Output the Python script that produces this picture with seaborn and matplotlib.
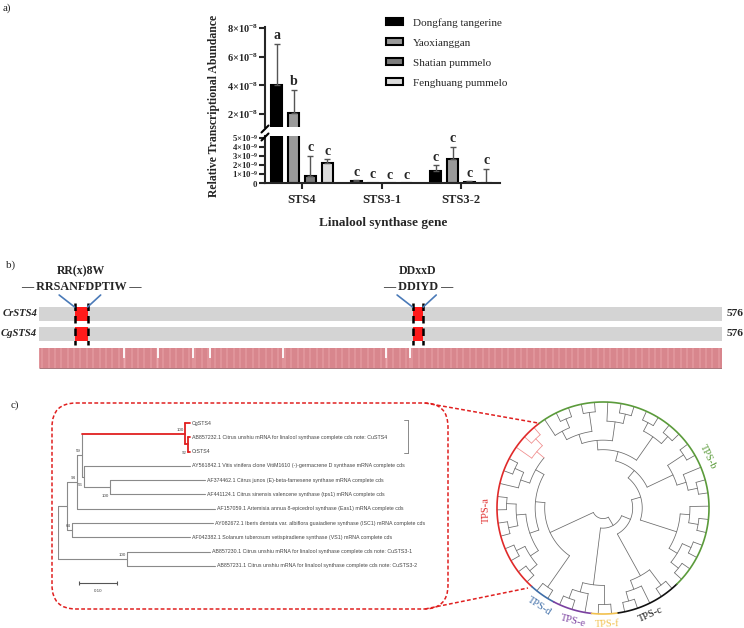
import matplotlib
matplotlib.use("Agg")
import matplotlib.pyplot as plt
from matplotlib.patches import FancyBboxPatch, Rectangle, Patch
import seaborn as sns
import numpy as np
import pandas as pd

# ---------------- a) expression of the linalool synthase genes ----------------
genes = ["STS4", "STS3-1", "STS3-2"]
cultivars = ["Dongfang tangerine", "Yaoxianggan", "Shatian pummelo", "Fenghuang pummelo"]
dongfang = [4.0e-8, 0.20e-9, 1.30e-9]
yaoxianggan = [2.1e-8, 0.05e-9, 2.70e-9]
shatian = [0.8e-9, 0.0, 0.15e-9]
fenghuang = [2.2e-9, 0.0, 0.02e-9]
dongfang_sd = [2.9e-8, 0.08e-9, 0.70e-9]
yaoxianggan_sd = [1.6e-8, 0.0, 1.30e-9]
shatian_sd = [2.2e-9, 0.0, 0.08e-9]
fenghuang_sd = [0.4e-9, 0.0, 1.55e-9]
dongfang_sig = ["a", "c", "c"]
yaoxianggan_sig = ["b", "c", "c"]
shatian_sig = ["c", "c", "c"]
fenghuang_sig = ["c", "c", "c"]
bar_colors = ["#000000", "#9a9a9a", "#7d7d7d", "#dcdcdc"]

upper_ticks = [2e-8, 4e-8, 6e-8, 8e-8]
upper_labels = [r"$\mathbf{2{\times}10^{-8}}$", r"$\mathbf{4{\times}10^{-8}}$",
                r"$\mathbf{6{\times}10^{-8}}$", r"$\mathbf{8{\times}10^{-8}}$"]
lower_ticks = [0, 1e-9, 2e-9, 3e-9, 4e-9, 5e-9]
lower_labels = [r"$\mathbf{0}$", r"$\mathbf{1{\times}10^{-9}}$", r"$\mathbf{2{\times}10^{-9}}$",
                r"$\mathbf{3{\times}10^{-9}}$", r"$\mathbf{4{\times}10^{-9}}$", r"$\mathbf{5{\times}10^{-9}}$"]

# ---------------- b) protein alignment ----------------
protein_len = 576
sequences = ["CrSTS4", "CgSTS4"]
motif_names = ["RR(x)8W", "DDxxD"]
motif_seqs = ["RRSANFDPTIW", "DDIYD"]
motif_start = [30, 315]
motif_end = [41, 324]
variable_sites = [72, 100, 130, 144, 206, 293, 313]

# ---------------- c) phylogeny ----------------
tree_leaves = [
    "CgSTS4",
    "AB857232.1 Citrus unshiu mRNA for linalool synthase complete cds note: CuSTS4",
    "CrSTS4",
    "AY561842.1 Vitis vinifera clone VitiM1610 (-)-germacrene D synthase mRNA complete cds",
    "AF374462.1 Citrus junos (E)-beta-farnesene synthase mRNA complete cds",
    "AF441124.1 Citrus sinensis valencene synthase (tps1) mRNA complete cds",
    "AF157059.1 Artemisia annua 8-epicedrol synthase (Eas1) mRNA complete cds",
    "AY082672.1 Iberis dentata var. albiflora guaiadiene synthase (ISC1) mRNA complete cds",
    "AF042382.1 Solanum tuberosum vetispiradiene synthase (VS1) mRNA complete cds",
    "AB857230.1 Citrus unshiu mRNA for linalool synthase complete cds note: CuSTS3-1",
    "AB857231.1 Citrus unshiu mRNA for linalool synthase complete cds note: CuSTS3-2",
]
tip_depth = [0.347, 0.347, 0.347, 0.347, 0.387, 0.387, 0.413, 0.408, 0.347, 0.400, 0.413]
# (name, depth, child 1, child 2, bootstrap): children are leaf indices or earlier clade names
clades = [
    ("n92", 0.342, 1, 2, "92"),
    ("n100s4", 0.334, 0, "n92", "100"),
    ("n100a", 0.137, 4, 5, "100"),
    ("n56", 0.068, 3, "n100a", "56"),
    ("n59", 0.063, "n100s4", "n56", "59"),
    ("n94", 0.050, "n59", 6, "94"),
    ("n64", 0.037, 7, 8, "64"),
    ("nbase", 0.024, "n94", "n64", ""),
    ("n100b", 0.182, 9, 10, "100"),
    ("root", 0.0, "nbase", "n100b", ""),
]
sts4_clade = {"n92", "n100s4", 0, 1, 2}

tps_a = [[[["a1", "a2"], "a3"], [["a4", "a5"], "a6"]],
         [[["a7", "a8"], ["a9", "a10"]], [["a11", "a12"], ["a13", "a14"]]]]
tps_d = ["d1", "d2"]
tps_e = [["e1", "e2"], "e3"]
tps_f = ["f1", "f2"]
tps_c = [[["c1", "c2"], "c3"], ["c4", "c5"]]
tps_b = [[[["b1", "b2"], ["b3", "b4"]], [["b5", "b6"], "b7"]],
         [[[["b8", "b9"], "b10"], ["b11", "b12"]],
          [[["b13", "b14"], ["b15", "b16"]],
           [[["b17", "b18"], "b19"], [["b20", "b21"], [["b22", "b23"], "b24"]]]]]]
tps_tree = [[tps_a, tps_d], [[tps_e, tps_f], [tps_c, tps_b]]]
tps_groups = ["a", "d", "e", "f", "c", "b"]
tps_colors = {"a": "#e02a2a", "d": "#3f6ea8", "e": "#7a40a0", "f": "#f2c14e", "c": "#111111", "b": "#5b9b3b"}
highlight = {"a1", "a2", "a3"}

W, H = 744, 628
sns.set_style("ticks")
plt.rcParams["font.family"] = ["Liberation Serif", "DejaVu Serif"]
plt.rcParams["mathtext.fontset"] = "custom"
plt.rcParams["mathtext.rm"] = "Liberation Serif"
plt.rcParams["mathtext.bf"] = "Liberation Serif:bold"

fig = plt.figure(figsize=(W / 100, H / 100), dpi=100)


def px_axes(x0, y0, x1, y1):
    return fig.add_axes([x0 / W, 1 - y1 / H, (x1 - x0) / W, (y1 - y0) / H])


# ---------------- panel a ----------------
means = [dongfang, yaoxianggan, shatian, fenghuang]
sds = [dongfang_sd, yaoxianggan_sd, shatian_sd, fenghuang_sd]
sigs = [dongfang_sig, yaoxianggan_sig, shatian_sig, fenghuang_sig]
rows = []
for gi, g in enumerate(genes):
    for ci, c in enumerate(cultivars):
        rows.append(dict(gene=g, cultivar=c, value=means[ci][gi], sd=sds[ci][gi], sig=sigs[ci][gi]))
expr = pd.DataFrame(rows)

ax_top = px_axes(265, 26.6, 500, 127)
ax_bot = px_axes(265, 136, 500, 183)
for ax in (ax_top, ax_bot):
    sns.barplot(data=expr, x="gene", y="value", hue="cultivar", order=genes, hue_order=cultivars,
                palette=bar_colors, width=0.85, gap=0.34, edgecolor="black", linewidth=1.5,
                errorbar=None, legend=False, ax=ax)
    ax.set_xlim(-0.465, 2.49)
    ax.set_xlabel("")
    ax.set_ylabel("")
    bars = sorted(ax.patches, key=lambda p: p.get_x())
    xs = np.array([p.get_x() + p.get_width() / 2 for p in bars])
    has = expr["sd"].values > 0
    ax.errorbar(xs[has], expr["value"].values[has],
                yerr=[np.zeros(has.sum()), expr["sd"].values[has]],
                fmt="none", ecolor="#555555", elinewidth=1, capsize=2.5, capthick=1, zorder=1)
    for s in ("top", "right"):
        ax.spines[s].set_visible(False)
    for s in ("left", "bottom"):
        ax.spines[s].set_linewidth(1.5)
    ax.tick_params(axis="both", direction="out", length=4, width=1.5, pad=1)

ax_top.set_ylim(1.1e-8, 8.1e-8)
ax_top.set_yticks(upper_ticks, upper_labels, fontsize=7.5)
ax_top.set_xticks([])
ax_top.spines["bottom"].set_visible(False)
ax_bot.set_ylim(0, 5.2e-9)
ax_bot.set_yticks(lower_ticks, lower_labels, fontsize=6.3)
ax_bot.set_xticks(range(len(genes)), genes, fontsize=9, fontweight="bold")
ax_bot.tick_params(axis="x", pad=4)

for x, (_, r) in zip(xs, expr.iterrows()):
    top = r["value"] + r["sd"]
    target = ax_top if top > 5.2e-9 else ax_bot
    target.annotate(r["sig"], (x, top), xytext=(0, 1), textcoords="offset points",
                    ha="center", va="bottom", fontsize=10, fontweight="bold", annotation_clip=False)

handles = [Patch(facecolor=c, edgecolor="black", linewidth=1.5) for c in bar_colors]
ax_top.legend(handles, cultivars, loc="upper left", bbox_to_anchor=(386 / W, 1 - 18 / H),
              bbox_transform=fig.transFigure, frameon=False, fontsize=8, handlelength=1.5,
              handleheight=0.6, handletextpad=0.9, labelspacing=0.95, borderpad=0, borderaxespad=0)

fig.text(214 / W, 1 - 106 / H, "Relative Transcriptional Abundance", rotation=90, ha="center",
         va="center", fontsize=8.5, fontweight="bold")
fig.text(383 / W, 1 - 223 / H, "Linalool synthase gene", ha="center", va="center",
         fontsize=9.5, fontweight="bold")

# ---------------- panel b ----------------
ax_b = px_axes(39, 262, 722, 372)
ax_b.set_xlim(0, protein_len)
ax_b.set_ylim(372, 262)
ax_b.axis("off")
row_y = [(307, 321), (327, 341)]
for name, (y0, y1) in zip(sequences, row_y):
    ax_b.add_patch(Rectangle((0, y0), protein_len, y1 - y0, facecolor="#d4d4d4", edgecolor="none"))
    ax_b.text(-1.5, (y0 + y1) / 2, name, ha="right", va="center", fontsize=7.7,
              fontweight="bold", fontstyle="italic", clip_on=False)
    ax_b.text(protein_len + 4, (y0 + y1) / 2, str(protein_len), ha="left", va="center",
              fontsize=8.2, fontweight="bold", clip_on=False)
    for s, e in zip(motif_start, motif_end):
        ax_b.add_patch(Rectangle((s, y0), e - s, y1 - y0, facecolor="#ff1a1a", edgecolor="none"))
residues = np.arange(1, protein_len + 1)
conserved = residues[~np.isin(residues, variable_sites)]
ax_b.add_patch(Rectangle((0, 348), protein_len, 20, facecolor="#eba6ac", edgecolor="none"))
ax_b.vlines(conserved, 348, 368, color="#c05c66", linewidth=0.35)
ax_b.vlines(variable_sites, 348, 358, color="white", linewidth=1.3)
ax_b.hlines(368, 0, protein_len, color="#9a6066", linewidth=0.6)
for name, seq, s, e in zip(motif_names, motif_seqs, motif_start, motif_end):
    c = (s + e) / 2
    ax_b.vlines([s, e], 303, 345, color="black", linewidth=1.8, linestyle=(0, (3, 2)))
    ax_b.plot([s, s - 13], [307, 295], color="#4a7ab8", linewidth=1.2)
    ax_b.plot([e, e + 11], [307, 295], color="#4a7ab8", linewidth=1.2)
    ax_b.text(c, 271, name, ha="center", va="center", fontsize=8.5, fontweight="bold")
    ax_b.text(c, 287, "\u2014 " + seq + " \u2014", ha="center", va="center", fontsize=8.7,
              fontweight="bold")

# ---------------- panel c: rectangular tree ----------------
ax_t = px_axes(58, 413, 458, 600)
ax_t.set_xlim(0, 400 / 380)
ax_t.set_ylim(12.38, -0.7)
ax_t.axis("off")
pos = {i: (d, float(i)) for i, d in enumerate(tip_depth)}
for name, depth, c1, c2, boot in clades:
    y1, y2 = pos[c1][1], pos[c2][1]
    pos[name] = (depth, (y1 + y2) / 2)
    vcol = "#e02020" if name in sts4_clade else "#8a8a8a"
    ax_t.plot([depth, depth], [y1, y2], color=vcol, linewidth=1.3 if name in sts4_clade else 0.8)
    for ch in (c1, c2):
        col = "#e02020" if ch in sts4_clade else "#8a8a8a"
        ax_t.plot([depth, pos[ch][0]], [pos[ch][1]] * 2, color=col,
                  linewidth=1.3 if ch in sts4_clade else 0.8)
    if boot:
        below = name in ("n92", "n56", "n100a")
        ax_t.text(depth - 0.004, pos[name][1] + (0.45 if below else -0.15), boot, ha="right",
                  va="top" if below else "bottom", fontsize=3.2, family="Liberation Sans",
                  color="#444444")
for i, lab in enumerate(tree_leaves):
    ax_t.text(tip_depth[i] + 0.006, i, lab, ha="left", va="center", fontsize=3.8,
              family="Liberation Sans", color="#444444")
ax_t.plot([0.921, 0.921], [-0.2, 2.1], color="#777777", linewidth=0.6)
ax_t.plot([0.911, 0.921], [-0.2, -0.2], color="#777777", linewidth=0.6)
ax_t.plot([0.911, 0.921], [2.1, 2.1], color="#777777", linewidth=0.6)
ax_t.plot([0.055, 0.155], [11.19, 11.19], color="#555555", linewidth=0.8, marker="|",
          markersize=3, markeredgewidth=0.8)
ax_t.text(0.105, 11.6, "0.10", ha="center", va="top", fontsize=3.2, family="Liberation Sans",
          color="#444444")

# ---------------- panel c: circular tree ----------------
ax_c = px_axes(483, 388, 723, 628)
ax_c.set_xlim(-1.132, 1.132)
ax_c.set_ylim(-1.132, 1.132)
ax_c.axis("off")


def leaves_of(node):
    return [node] if isinstance(node, str) else [x for c in node for x in leaves_of(c)]


def height(node):
    return 0 if isinstance(node, str) else 1 + max(height(c) for c in node)


order = leaves_of(tps_tree)
step = 360 / len(order)
start = 127
leaf_angle = {nm: start + (i + 0.5) * step for i, nm in enumerate(order)}


def draw_clade(node):
    if isinstance(node, str):
        return leaf_angle[node], 1.0
    kids = [draw_clade(c) for c in node]
    r = 1 - 0.09 * height(node)
    col = "#f08a8a" if set(leaves_of(node)) <= highlight else "#6a6a6a"
    angs = [k[0] for k in kids]
    th = np.radians(np.linspace(min(angs), max(angs), 40))
    ax_c.plot(r * np.cos(th), r * np.sin(th), color=col, linewidth=0.55)
    for (a, rc), c in zip(kids, node):
        ccol = "#f08a8a" if set(leaves_of(c)) <= highlight else "#6a6a6a"
        t = np.radians(a)
        ax_c.plot([r * np.cos(t), rc * np.cos(t)], [r * np.sin(t), rc * np.sin(t)], color=ccol,
                  linewidth=0.55)
    return (min(angs) + max(angs)) / 2, r


draw_clade(tps_tree)
label_pos = {"a": (181, 1.1, 91), "b": (26, 1.1, -64), "d": (237, 1.1, -33),
             "e": (255, 1.1, -15), "f": (272, 1.1, 2), "c": (294, 1.1, 24)}
for g in tps_groups:
    angs = [leaf_angle[n] for n in order if n[0] == g]
    th = np.radians(np.linspace(min(angs) - step / 2, max(angs) + step / 2, 80))
    ax_c.plot(np.cos(th), np.sin(th), color=tps_colors[g], linewidth=1.2)
    a, r, rot = label_pos[g]
    ax_c.text(r * np.cos(np.radians(a)), r * np.sin(np.radians(a)), "TPS-" + g, rotation=rot,
              ha="center", va="center", fontsize=7.5, color=tps_colors[g])

# ---------------- overlay: panel labels, break marks, zoom box ----------------
ax_o = fig.add_axes([0, 0, 1, 1])
ax_o.set_xlim(0, W)
ax_o.set_ylim(H, 0)
ax_o.axis("off")
ax_o.patch.set_alpha(0)
ax_o.text(3, 8, "a)", fontsize=8, va="center")
ax_o.text(6, 265, "b)", fontsize=8, va="center")
ax_o.text(11, 405, "c)", fontsize=8, va="center")
for yb in (129, 137):
    ax_o.plot([261.5, 268.5], [yb + 3.5, yb - 3.5], color="black", linewidth=1.5)
ax_o.add_patch(FancyBboxPatch((52, 403), 396, 206, boxstyle="round,pad=0,rounding_size=24",
                              facecolor="none", edgecolor="#e02020", linewidth=1.1,
                              linestyle=(0, (2.5, 1.5))))
ax_o.plot([425, 538], [403, 423], color="#e02020", linewidth=1.1, linestyle=(0, (2.5, 1.5)))
ax_o.plot([425, 528], [609, 588], color="#e02020", linewidth=1.1, linestyle=(0, (2.5, 1.5)))

fig.savefig("out.png", dpi=100)
